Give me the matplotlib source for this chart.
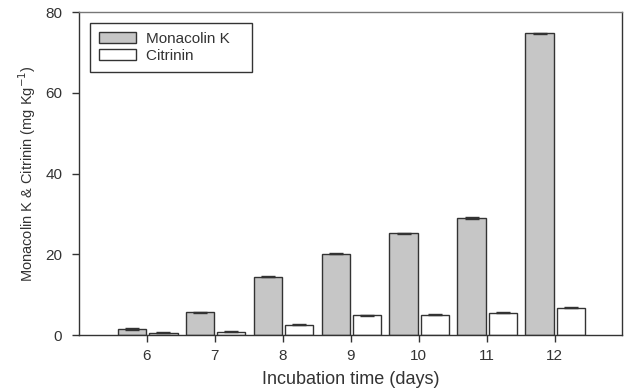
import numpy as np
import matplotlib
matplotlib.use("Agg")
import matplotlib.pyplot as plt

plt.rcParams['font.family'] = ['Liberation Sans', 'DejaVu Sans']

# days of incubation and the two metabolites (mg/kg)
days = [6, 7, 8, 9, 10, 11, 12]
monacolin = [1.5, 5.6, 14.4, 20.1, 25.2, 29.0, 74.7]
citrinin = [0.6, 0.8, 2.6, 4.9, 5.0, 5.5, 6.8]
monacolin_err = [0.15, 0.1, 0.1, 0.1, 0.15, 0.15, 0.2]
citrinin_err = [0.1, 0.1, 0.1, 0.1, 0.1, 0.1, 0.1]

x = np.array(days, dtype=float)
width = 0.42

fig = plt.figure(figsize=(6.29, 3.91), dpi=100)
ax = fig.add_axes([0.1256, 0.1432, 0.864, 0.826])

ax.bar(x - width / 2 - 0.01, monacolin, width, color="#c6c6c6",
       edgecolor="#333333", linewidth=1.0, label="Monacolin K")
ax.bar(x + width / 2 + 0.03, citrinin, width, color="white",
       edgecolor="#333333", linewidth=1.0, label="Citrinin")
ax.errorbar(x - width / 2 - 0.01, monacolin, yerr=monacolin_err, fmt="none",
            ecolor="#333333", elinewidth=1, capsize=5, capthick=1)
ax.errorbar(x + width / 2 + 0.03, citrinin, yerr=citrinin_err, fmt="none",
            ecolor="#333333", elinewidth=1, capsize=5, capthick=1)

ax.set_xlim(5, 13)
ax.set_ylim(0, 80)
ax.set_xticks(days)
ax.set_yticks([0, 20, 40, 60, 80])
ax.tick_params(direction="out", length=5, width=1, colors="#333333",
               labelsize=11, pad=5)
ax.tick_params(axis="y", pad=7)

for side in ["left", "bottom", "top", "right"]:
    ax.spines[side].set_color("#333333")
    ax.spines[side].set_linewidth(1.0)
ax.spines["top"].set_color("#777777")

ax.set_xlabel("Incubation time (days)", fontsize=13, color="#333333", labelpad=6)
ax.set_ylabel("Monacolin K & Citrinin (mg Kg$^{-1}$)", fontsize=10.5,
              color="#333333", labelpad=5)

leg = ax.legend(loc="upper left", bbox_to_anchor=(0.02, 0.967),
                borderaxespad=0, fontsize=11, fancybox=False, framealpha=1,
                edgecolor="#333333", handlelength=2.4, handleheight=0.7,
                borderpad=0.6, labelspacing=0.2, handletextpad=0.7)
leg.get_frame().set_linewidth(1.0)
for t in leg.get_texts():
    t.set_color("#333333")
    t.set_text(t.get_text() + "   ")

fig.savefig("out.png", dpi=100)
